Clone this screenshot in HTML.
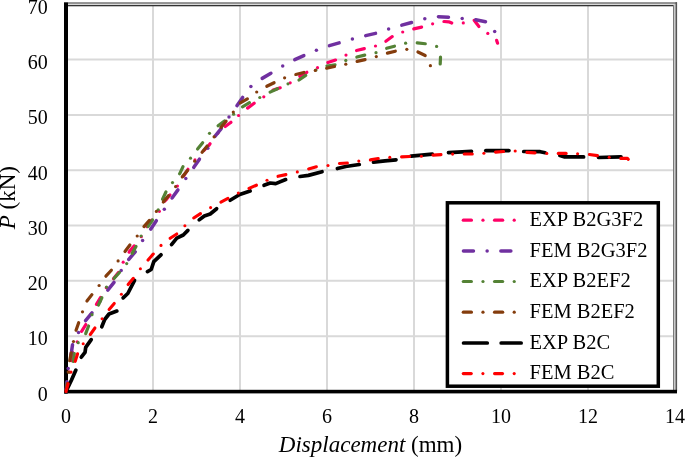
<!DOCTYPE html>
<html><head><meta charset="utf-8"><style>
html,body{margin:0;padding:0;background:#fff;width:685px;height:458px;overflow:hidden}
svg{display:block;will-change:transform}
text{font-family:"Liberation Serif",serif;fill:#000}
.tk{font-size:20px}
.lg{font-size:20.5px}
.tt{font-size:23px}
</style></head><body><svg width="685" height="458" viewBox="0 0 685 458"><g stroke="#D9D9D9" stroke-width="2"><line x1="153.0" y1="5" x2="153.0" y2="390"/><line x1="240.0" y1="5" x2="240.0" y2="390"/><line x1="327.0" y1="5" x2="327.0" y2="390"/><line x1="414.0" y1="5" x2="414.0" y2="390"/><line x1="501.0" y1="5" x2="501.0" y2="390"/><line x1="588.0" y1="5" x2="588.0" y2="390"/><line x1="66" y1="336.18" x2="674" y2="336.18"/><line x1="66" y1="280.86" x2="674" y2="280.86"/><line x1="66" y1="225.54" x2="674" y2="225.54"/><line x1="66" y1="170.22" x2="674" y2="170.22"/><line x1="66" y1="114.90" x2="674" y2="114.90"/><line x1="66" y1="59.58" x2="674" y2="59.58"/></g><rect x="64" y="2.2" width="613" height="1.7" fill="#7f7f7f"/><rect x="64" y="3.9" width="610" height="0.9" fill="#d0d0d0"/><rect x="64" y="5" width="609" height="1.3" fill="#333"/><rect x="673" y="5" width="1.2" height="386" fill="#7a7a7a"/><rect x="674.1" y="3.9" width="1.4" height="387" fill="#c8c8c8"/><rect x="675.5" y="2.2" width="1.6" height="389" fill="#555"/><rect x="64" y="2.5" width="4" height="391" fill="#000"/><rect x="64" y="389.8" width="613" height="3.6" fill="#000"/><g fill="none" stroke="#FF0066" stroke-width="3.2" stroke-linecap="round" stroke-linejoin="round"><polyline points="66.00,391.50 67.20,383.60 67.22,383.44"/><circle cx="69.02" cy="371.93" r="1.60" stroke="none" fill="#FF0066"/><polyline points="71.46,360.54 72.49,352.45"/><circle cx="77.20" cy="341.80" r="1.60" stroke="none" fill="#FF0066"/><polyline points="81.59,331.28 85.83,324.53"/><circle cx="90.86" cy="314.29" r="1.60" stroke="none" fill="#FF0066"/><polyline points="96.43,304.34 100.20,298.20 100.58,297.53"/><circle cx="106.28" cy="287.66" r="1.60" stroke="none" fill="#FF0066"/><polyline points="113.46,278.80 118.45,272.56"/><circle cx="123.20" cy="262.20" r="1.60" stroke="none" fill="#FF0066"/><polyline points="129.06,252.19 129.40,251.60 134.00,246.00 134.11,245.85"/><circle cx="141.25" cy="236.71" r="1.60" stroke="none" fill="#FF0066"/><polyline points="146.97,226.64 151.00,221.00 151.78,220.11"/><circle cx="159.37" cy="211.34" r="1.60" stroke="none" fill="#FF0066"/><polyline points="164.70,201.17 166.90,198.80 170.01,195.04"/><circle cx="177.40" cy="186.10" r="1.60" stroke="none" fill="#FF0066"/><polyline points="183.55,176.15 188.00,169.27"/><circle cx="195.00" cy="159.90" r="1.60" stroke="none" fill="#FF0066"/><polyline points="203.96,150.48 208.80,145.50 210.08,143.76"/><circle cx="217.80" cy="133.30" r="1.60" stroke="none" fill="#FF0066"/><polyline points="225.26,126.44 230.30,122.80 230.97,122.21"/><circle cx="238.60" cy="115.50" r="1.60" stroke="none" fill="#FF0066"/><polyline points="247.58,108.10 254.14,103.29"/><circle cx="263.80" cy="96.80" r="1.60" stroke="none" fill="#FF0066"/><polyline points="272.84,90.26 273.20,90.00 280.24,87.81"/><circle cx="290.20" cy="82.80" r="1.60" stroke="none" fill="#FF0066"/><polyline points="299.77,76.25 306.85,72.28"/><circle cx="317.50" cy="67.70" r="1.60" stroke="none" fill="#FF0066"/><polyline points="327.83,62.49 335.53,60.02"/><circle cx="346.00" cy="55.10" r="1.60" stroke="none" fill="#FF0066"/><polyline points="356.51,50.50 364.33,48.63"/><circle cx="375.50" cy="46.00" r="1.60" stroke="none" fill="#FF0066"/><polyline points="385.85,41.28 392.28,36.58"/><circle cx="402.70" cy="32.00" r="1.60" stroke="none" fill="#FF0066"/><polyline points="413.76,28.90 421.61,27.15"/><circle cx="432.60" cy="23.80" r="1.60" stroke="none" fill="#FF0066"/><polyline points="443.92,21.51 448.70,21.80 451.77,23.01"/><circle cx="463.30" cy="22.90" r="1.60" stroke="none" fill="#FF0066"/><polyline points="474.14,20.35 478.93,26.58"/><circle cx="487.80" cy="33.40" r="1.60" stroke="none" fill="#FF0066"/><polyline points="496.61,40.36 497.60,43.20"/></g><g fill="none" stroke="#7030A0" stroke-width="3.5" stroke-linecap="round" stroke-linejoin="round"><polyline points="66.00,391.50 66.93,381.75"/><circle cx="68.20" cy="368.40" r="1.75" stroke="none" fill="#7030A0"/><polyline points="70.93,354.83 71.50,352.00 72.52,344.85"/><circle cx="78.50" cy="332.40" r="1.75" stroke="none" fill="#7030A0"/><polyline points="85.55,320.55 91.99,312.81"/><circle cx="99.88" cy="301.49" r="1.75" stroke="none" fill="#7030A0"/><polyline points="107.78,290.18 114.03,282.29"/><circle cx="121.20" cy="270.50" r="1.75" stroke="none" fill="#7030A0"/><polyline points="128.80,259.33 135.21,251.82"/><circle cx="142.60" cy="240.50" r="1.75" stroke="none" fill="#7030A0"/><polyline points="150.68,229.16 150.80,229.00 156.33,220.71"/><circle cx="164.30" cy="209.30" r="1.75" stroke="none" fill="#7030A0"/><polyline points="172.05,197.96 177.94,189.86"/><circle cx="185.80" cy="178.60" r="1.75" stroke="none" fill="#7030A0"/><polyline points="193.73,167.40 193.80,167.30 199.44,159.18"/><circle cx="207.80" cy="148.30" r="1.75" stroke="none" fill="#7030A0"/><polyline points="214.90,136.35 221.20,128.60 221.29,128.47"/><circle cx="229.00" cy="116.90" r="1.75" stroke="none" fill="#7030A0"/><polyline points="236.93,105.66 242.65,97.41"/><circle cx="250.90" cy="86.40" r="1.75" stroke="none" fill="#7030A0"/><polyline points="262.19,78.38 270.90,73.30 270.92,73.29"/><circle cx="282.70" cy="66.00" r="1.75" stroke="none" fill="#7030A0"/><polyline points="294.77,59.68 303.83,55.58"/><circle cx="316.40" cy="50.30" r="1.75" stroke="none" fill="#7030A0"/><polyline points="329.42,45.67 339.12,42.91"/><circle cx="352.40" cy="39.10" r="1.75" stroke="none" fill="#7030A0"/><polyline points="365.72,35.60 375.51,33.37"/><circle cx="388.60" cy="29.10" r="1.75" stroke="none" fill="#7030A0"/><polyline points="401.82,25.18 411.53,22.53"/><circle cx="424.80" cy="18.80" r="1.75" stroke="none" fill="#7030A0"/><polyline points="438.41,16.64 448.47,17.17"/><circle cx="462.20" cy="18.60" r="1.75" stroke="none" fill="#7030A0"/><polyline points="475.76,19.83 485.52,21.73"/><circle cx="494.70" cy="31.40" r="1.75" stroke="none" fill="#7030A0"/></g><g fill="none" stroke="#548235" stroke-width="3.2" stroke-linecap="round" stroke-linejoin="round"><polyline points="66.00,391.50 67.20,383.60 67.21,383.56"/><circle cx="69.50" cy="372.31" r="1.60" stroke="none" fill="#548235"/><polyline points="73.25,361.46 74.33,353.50"/><circle cx="78.20" cy="342.70" r="1.60" stroke="none" fill="#548235"/><polyline points="85.69,333.66 88.60,326.00 88.61,325.96"/><circle cx="92.00" cy="314.70" r="1.60" stroke="none" fill="#548235"/><polyline points="98.44,305.07 101.85,297.71"/><circle cx="106.50" cy="287.10" r="1.60" stroke="none" fill="#548235"/><polyline points="114.03,278.43 119.48,272.53"/><circle cx="126.70" cy="263.60" r="1.60" stroke="none" fill="#548235"/><polyline points="132.08,253.40 136.00,246.50 136.06,246.38"/><circle cx="141.10" cy="236.00" r="1.60" stroke="none" fill="#548235"/><polyline points="147.96,226.64 152.10,220.60 152.49,219.90"/><circle cx="158.20" cy="209.80" r="1.60" stroke="none" fill="#548235"/><polyline points="162.54,199.21 165.93,191.96"/><circle cx="172.50" cy="182.60" r="1.60" stroke="none" fill="#548235"/><polyline points="179.56,173.75 180.00,173.20 183.01,166.64"/><circle cx="190.50" cy="158.20" r="1.60" stroke="none" fill="#548235"/><polyline points="197.57,149.00 202.67,142.68"/><circle cx="209.50" cy="133.30" r="1.60" stroke="none" fill="#548235"/><polyline points="218.11,125.84 223.10,122.10 224.49,121.05"/><circle cx="233.60" cy="114.20" r="1.60" stroke="none" fill="#548235"/><polyline points="242.47,106.78 249.47,102.71"/><circle cx="259.80" cy="97.50" r="1.60" stroke="none" fill="#548235"/><polyline points="270.09,92.11 277.49,88.74"/><circle cx="288.00" cy="83.80" r="1.60" stroke="none" fill="#548235"/><polyline points="298.98,80.01 305.73,75.45"/><circle cx="316.00" cy="70.00" r="1.60" stroke="none" fill="#548235"/><polyline points="326.97,66.05 327.10,66.00 335.02,64.79"/><circle cx="345.80" cy="60.40" r="1.60" stroke="none" fill="#548235"/><polyline points="356.85,57.02 364.71,55.14"/><circle cx="376.00" cy="52.70" r="1.60" stroke="none" fill="#548235"/><polyline points="386.66,48.30 394.46,46.20"/><circle cx="405.60" cy="43.20" r="1.60" stroke="none" fill="#548235"/><polyline points="417.21,42.87 425.29,43.74"/><circle cx="436.60" cy="46.40" r="1.60" stroke="none" fill="#548235"/><polyline points="440.51,57.11 440.20,64.00"/></g><g fill="none" stroke="#843C0C" stroke-width="3.2" stroke-linecap="round" stroke-linejoin="round"><polyline points="66.00,391.50 67.50,383.60 67.50,383.59"/><circle cx="68.20" cy="372.10" r="1.60" stroke="none" fill="#843C0C"/><polyline points="69.71,360.69 71.23,352.78"/><circle cx="73.50" cy="341.50" r="1.60" stroke="none" fill="#843C0C"/><polyline points="76.05,330.28 78.68,322.66"/><circle cx="82.50" cy="311.80" r="1.60" stroke="none" fill="#843C0C"/><polyline points="86.93,301.07 91.91,294.64"/><circle cx="99.10" cy="285.50" r="1.60" stroke="none" fill="#843C0C"/><polyline points="105.90,276.19 111.36,270.25"/><circle cx="118.10" cy="260.90" r="1.60" stroke="none" fill="#843C0C"/><polyline points="125.00,251.54 129.88,245.03"/><circle cx="137.20" cy="236.00" r="1.60" stroke="none" fill="#843C0C"/><polyline points="143.97,226.62 149.24,220.48"/><circle cx="156.40" cy="211.40" r="1.60" stroke="none" fill="#843C0C"/><polyline points="163.30,202.05 168.42,195.73"/><circle cx="175.60" cy="186.60" r="1.60" stroke="none" fill="#843C0C"/><polyline points="182.26,176.89 187.50,170.52"/><circle cx="194.70" cy="161.20" r="1.60" stroke="none" fill="#843C0C"/><polyline points="202.08,152.31 207.20,146.06"/><circle cx="214.10" cy="136.80" r="1.60" stroke="none" fill="#843C0C"/><polyline points="220.97,127.43 226.12,121.14"/><circle cx="233.30" cy="112.00" r="1.60" stroke="none" fill="#843C0C"/><polyline points="240.33,102.85 247.38,98.85"/><circle cx="256.70" cy="92.00" r="1.60" stroke="none" fill="#843C0C"/><polyline points="266.80,86.30 274.09,82.70"/><circle cx="284.60" cy="77.80" r="1.60" stroke="none" fill="#843C0C"/><polyline points="295.83,74.49 303.78,72.48"/><circle cx="315.30" cy="70.40" r="1.60" stroke="none" fill="#843C0C"/><polyline points="326.62,68.21 334.50,66.51"/><circle cx="345.80" cy="64.20" r="1.60" stroke="none" fill="#843C0C"/><polyline points="357.10,61.37 365.07,59.69"/><circle cx="376.30" cy="56.60" r="1.60" stroke="none" fill="#843C0C"/><polyline points="387.41,53.13 395.32,51.19"/><circle cx="406.80" cy="49.30" r="1.60" stroke="none" fill="#843C0C"/><polyline points="417.95,52.01 425.20,55.50"/><circle cx="430.40" cy="65.70" r="1.60" stroke="none" fill="#843C0C"/></g><g fill="none" stroke="#000" stroke-width="3.7" stroke-linecap="round" stroke-linejoin="round"><polyline points="66.00,391.50 71.50,380.00 75.89,370.11"/><polyline points="81.31,357.21 85.00,352.40 85.70,347.40 91.22,339.62"/><polyline points="101.77,326.77 104.70,319.50 109.00,314.00 116.86,311.05"/><polyline points="123.13,297.91 127.80,293.50 134.55,280.29"/><polyline points="147.47,271.61 151.20,269.50 153.80,261.60 160.97,254.79"/><polyline points="171.53,244.63 176.80,238.20 183.30,235.00 187.89,230.41"/><polyline points="199.20,219.89 204.30,216.00 210.20,214.00 216.63,208.73"/><polyline points="230.16,200.28 239.70,194.50 250.15,191.02"/><polyline points="264.03,185.34 270.20,183.00 275.70,183.60 285.67,179.57"/><polyline points="299.99,176.47 308.40,175.40 322.04,171.66"/><polyline points="337.37,168.56 345.70,166.50 359.31,164.54"/><polyline points="373.49,162.18 385.00,160.80 396.00,159.79"/><polyline points="411.10,156.11 432.40,154.19"/><polyline points="448.50,152.64 471.50,151.36"/><polyline points="485.80,150.60 508.90,150.60"/><polyline points="523.70,151.51 540.20,151.70 545.12,152.70"/><polyline points="559.86,155.48 564.70,156.90 583.60,156.90"/><polyline points="598.50,157.48 621.00,156.92"/></g><g fill="none" stroke="#FF0000" stroke-width="3.1" stroke-linecap="round" stroke-linejoin="round"><polyline points="66.00,391.50 68.18,383.64"/><circle cx="71.00" cy="372.10" r="1.55" stroke="none" fill="#FF0000"/><polyline points="75.24,361.36 77.57,353.78"/><circle cx="83.20" cy="343.70" r="1.55" stroke="none" fill="#FF0000"/><polyline points="90.30,334.48 94.95,327.98"/><circle cx="102.10" cy="318.80" r="1.55" stroke="none" fill="#FF0000"/><polyline points="109.12,309.55 114.23,303.43"/><circle cx="121.40" cy="294.30" r="1.55" stroke="none" fill="#FF0000"/><polyline points="128.11,284.54 133.36,278.32"/><circle cx="140.40" cy="268.80" r="1.55" stroke="none" fill="#FF0000"/><polyline points="148.07,260.10 153.20,254.10 153.25,254.04"/><circle cx="161.00" cy="245.40" r="1.55" stroke="none" fill="#FF0000"/><polyline points="170.10,238.28 170.20,238.20 176.78,234.00"/><circle cx="184.90" cy="225.80" r="1.55" stroke="none" fill="#FF0000"/><polyline points="193.69,217.99 200.49,213.63"/><circle cx="210.60" cy="207.60" r="1.55" stroke="none" fill="#FF0000"/><polyline points="220.88,202.15 227.95,198.43"/><circle cx="238.30" cy="193.10" r="1.55" stroke="none" fill="#FF0000"/><polyline points="249.03,188.44 256.39,185.21"/><circle cx="267.00" cy="180.30" r="1.55" stroke="none" fill="#FF0000"/><polyline points="278.03,176.34 285.90,174.64"/><circle cx="297.30" cy="171.90" r="1.55" stroke="none" fill="#FF0000"/><polyline points="308.63,168.94 316.36,166.74"/><circle cx="328.00" cy="165.50" r="1.55" stroke="none" fill="#FF0000"/><polyline points="339.41,163.46 347.37,163.04"/><circle cx="358.80" cy="161.10" r="1.55" stroke="none" fill="#FF0000"/><polyline points="370.36,159.90 370.40,159.90 378.23,158.55"/><circle cx="389.80" cy="157.40" r="1.55" stroke="none" fill="#FF0000"/><polyline points="401.56,156.85 409.63,156.45"/><circle cx="421.40" cy="156.20" r="1.55" stroke="none" fill="#FF0000"/><polyline points="432.99,155.15 440.97,154.62"/><circle cx="452.60" cy="154.10" r="1.55" stroke="none" fill="#FF0000"/><polyline points="464.26,154.00 464.40,154.00 472.26,154.00"/><circle cx="483.90" cy="153.30" r="1.55" stroke="none" fill="#FF0000"/><polyline points="495.52,152.11 503.53,151.53"/><circle cx="515.20" cy="151.00" r="1.55" stroke="none" fill="#FF0000"/><polyline points="526.92,152.33 535.01,152.87"/><circle cx="546.80" cy="153.40" r="1.55" stroke="none" fill="#FF0000"/><polyline points="558.27,153.40 566.14,153.40"/><circle cx="577.60" cy="153.80" r="1.55" stroke="none" fill="#FF0000"/><polyline points="589.42,154.52 597.47,155.60"/><circle cx="609.20" cy="157.20" r="1.55" stroke="none" fill="#FF0000"/><polyline points="620.78,158.38 627.20,158.20 628.35,159.28"/></g><rect x="447.4" y="202.8" width="210.9" height="183.4" fill="#fff" stroke="#000" stroke-width="3.5"/><g fill="none" stroke="#FF0066" stroke-width="3.2" stroke-linecap="round" stroke-linejoin="round"><polyline points="463.30,220.20 471.40,220.20"/><circle cx="482.98" cy="220.20" r="1.60" stroke="none" fill="#FF0066"/><polyline points="494.55,220.20 502.65,220.20"/><circle cx="514.23" cy="220.20" r="1.60" stroke="none" fill="#FF0066"/></g><text x="529.5" y="225.80" class="lg">EXP B2G3F2</text><g fill="none" stroke="#7030A0" stroke-width="3.5" stroke-linecap="round" stroke-linejoin="round"><polyline points="463.45,251.10 473.45,251.10"/><circle cx="487.15" cy="251.10" r="1.75" stroke="none" fill="#7030A0"/><polyline points="500.85,251.10 510.85,251.10"/></g><text x="529.5" y="256.70" class="lg">FEM B2G3F2</text><g fill="none" stroke="#548235" stroke-width="3.2" stroke-linecap="round" stroke-linejoin="round"><polyline points="463.30,281.50 471.40,281.50"/><circle cx="482.98" cy="281.50" r="1.60" stroke="none" fill="#548235"/><polyline points="494.55,281.50 502.65,281.50"/><circle cx="514.23" cy="281.50" r="1.60" stroke="none" fill="#548235"/></g><text x="529.5" y="287.10" class="lg">EXP B2EF2</text><g fill="none" stroke="#843C0C" stroke-width="3.2" stroke-linecap="round" stroke-linejoin="round"><polyline points="463.30,312.20 471.40,312.20"/><circle cx="482.98" cy="312.20" r="1.60" stroke="none" fill="#843C0C"/><polyline points="494.55,312.20 502.65,312.20"/><circle cx="514.23" cy="312.20" r="1.60" stroke="none" fill="#843C0C"/></g><text x="529.5" y="317.80" class="lg">FEM B2EF2</text><g fill="none" stroke="#000000" stroke-width="3.7" stroke-linecap="round" stroke-linejoin="round"><polyline points="463.55,343.00 487.25,343.00"/><polyline points="501.15,343.00 521.15,343.00"/></g><text x="529.5" y="348.60" class="lg">EXP B2C</text><g fill="none" stroke="#FF0000" stroke-width="3.1" stroke-linecap="round" stroke-linejoin="round"><polyline points="463.25,373.60 471.25,373.60"/><circle cx="482.90" cy="373.60" r="1.55" stroke="none" fill="#FF0000"/><polyline points="494.55,373.60 502.55,373.60"/><circle cx="514.20" cy="373.60" r="1.55" stroke="none" fill="#FF0000"/></g><text x="529.5" y="379.20" class="lg">FEM B2C</text><text x="47.8" y="401.00" class="tk" text-anchor="end">0</text><text x="47.8" y="345.00" class="tk" text-anchor="end">10</text><text x="47.8" y="290.00" class="tk" text-anchor="end">20</text><text x="47.8" y="235.00" class="tk" text-anchor="end">30</text><text x="47.8" y="180.00" class="tk" text-anchor="end">40</text><text x="47.8" y="124.00" class="tk" text-anchor="end">50</text><text x="47.8" y="69.00" class="tk" text-anchor="end">60</text><text x="47.8" y="14.00" class="tk" text-anchor="end">70</text><text x="66.00" y="422.6" class="tk" text-anchor="middle">0</text><text x="153.00" y="422.6" class="tk" text-anchor="middle">2</text><text x="240.00" y="422.6" class="tk" text-anchor="middle">4</text><text x="327.00" y="422.6" class="tk" text-anchor="middle">6</text><text x="414.00" y="422.6" class="tk" text-anchor="middle">8</text><text x="501.00" y="422.6" class="tk" text-anchor="middle">10</text><text x="588.00" y="422.6" class="tk" text-anchor="middle">12</text><text x="675.00" y="422.6" class="tk" text-anchor="middle">14</text><text x="370.5" y="452.4" class="tt" text-anchor="middle"><tspan font-style="italic">Displacement</tspan> (mm)</text><text transform="translate(14.6,197.6) rotate(-90)" class="tt" text-anchor="middle"><tspan font-style="italic">P</tspan> (kN)</text></svg></body></html>
